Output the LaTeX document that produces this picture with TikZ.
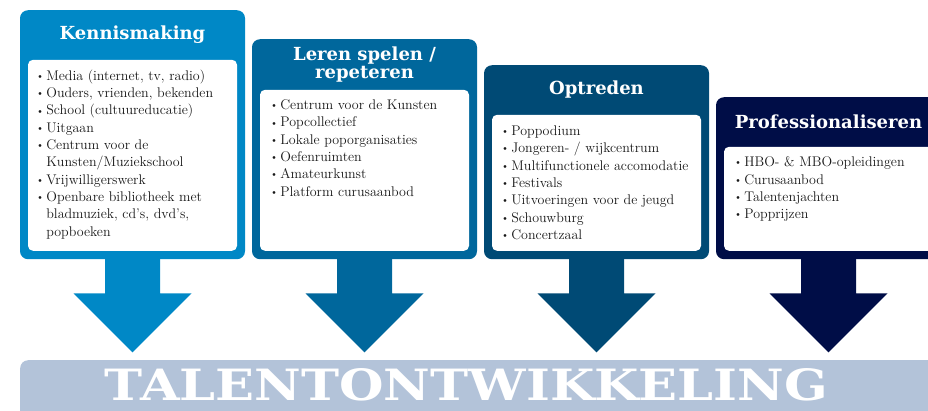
\documentclass[tikz,border=0pt]{standalone}
\usepackage{fontspec}
\usepackage{graphicx}
\usetikzlibrary{positioning,calc}
\newfontfamily\headfont{DejaVu Serif}

\definecolor{kenblue}{HTML}{0088C6}
\definecolor{lerblue}{HTML}{00679C}
\definecolor{optblue}{HTML}{004A75}
\definecolor{problue}{HTML}{000D47}
\definecolor{talentgrey}{HTML}{B3C3D9}

\newcommand{\bul}{\raisebox{0.15ex}{\scalebox{0.75}{\textbullet}}\,}
\newcommand{\indt}{\phantom{\bul}}
\newcommand{\blockarrow}[2]{\fill[#2] ($(#1.south)+(-27.5,-4)$) -- ++(0,38) -- ++(-31.5,0) -- ++(59,59) -- ++(59,-59) -- ++(-31.5,0) -- ++(0,-38) -- cycle;}

\begin{document}
\begin{tikzpicture}[
    x=1pt, y=-1pt,
    outerbox/.style={rectangle, rounded corners=8pt, minimum width=225pt, inner sep=0pt, anchor=north},
    innerbox/.style={rectangle, rounded corners=5pt, fill=white, minimum width=209pt, inner sep=0pt, anchor=south},
    head/.style={text=white, align=center, inner sep=0pt, font=\headfont\bfseries\fontsize{18}{18}\selectfont},
    items/.style={anchor=north west, align=left, inner sep=0pt, text=black!90, font=\fontsize{14}{17.3}\selectfont}
]
\useasboundingbox (0,0) rectangle (928,410);
\clip (0,0) rectangle (928,410);

% Columns
\node[outerbox, fill=kenblue, minimum height=249pt] (ken) at (132.5,10) {};
\node[innerbox, minimum height=191pt] (kenin) at (132.5,251) {};
\node[head] (kentitle) at (132.5,35) {Kennismaking};
\node[items] (kenlist) at ($(kenin.north west)+(8,10)$) {\bul Media (internet, tv, radio)\\ \bul Ouders, vrienden, bekenden\\ \bul School (cultuureducatie)\\ \bul Uitgaan\\ \bul Centrum voor de\\ \indt Kunsten/Muziekschool\\ \bul Vrijwilligerswerk\\ \bul Openbare bibliotheek met\\ \indt bladmuziek, cd’s, dvd’s,\\ \indt popboeken};

\node[outerbox, fill=lerblue, minimum height=220pt] (ler) at (364.5,39) {};
\node[innerbox, minimum height=161pt] (lerin) at (364.5,251) {};
\node[head] (lertitle) at (364.5,64.5) {Leren spelen /\\ repeteren};
\node[items] (lerlist) at ($(lerin.north west)+(10,10)$) {\bul Centrum voor de Kunsten\\ \bul Popcollectief\\ \bul Lokale poporganisaties\\ \bul Oefenruimten\\ \bul Amateurkunst\\ \bul Platform curusaanbod};

\node[outerbox, fill=optblue, minimum height=194pt] (opt) at (596.5,65) {};
\node[innerbox, minimum height=136pt] (optin) at (596.5,251) {};
\node[head] (opttitle) at (596.5,90) {Optreden};
\node[items] (optlist) at ($(optin.north west)+(9,11)$) {\bul Poppodium\\ \bul Jongeren- / wijkcentrum\\ \bul Multifunctionele accomodatie\\ \bul Festivals\\ \bul Uitvoeringen voor de jeugd\\ \bul Schouwburg\\ \bul Concertzaal};

\node[outerbox, fill=problue, minimum height=162pt] (pro) at (828.5,97) {};
\node[innerbox, minimum height=104pt] (proin) at (828.5,251) {};
\node[head] (protitle) at (828.5,122) {Professionaliseren};
\node[items] (prolist) at ($(proin.north west)+(10,10)$) {\bul HBO- \& MBO-opleidingen\\ \bul Curusaanbod\\ \bul Talentenjachten\\ \bul Popprijzen};

% Arrows down
\blockarrow{ken}{kenblue}
\blockarrow{ler}{lerblue}
\blockarrow{opt}{optblue}
\blockarrow{pro}{problue}

% Banner
\node[rectangle, rounded corners=8pt, fill=talentgrey, minimum width=930pt, minimum height=70pt, inner sep=0pt, anchor=north west] (banner) at (20,360) {};
\node[anchor=base, inner sep=0pt, text=white] (talent) at (466.5,400) {\resizebox{723pt}{32pt}{\headfont\bfseries TALENTONTWIKKELING}};

\end{tikzpicture}
\end{document}
